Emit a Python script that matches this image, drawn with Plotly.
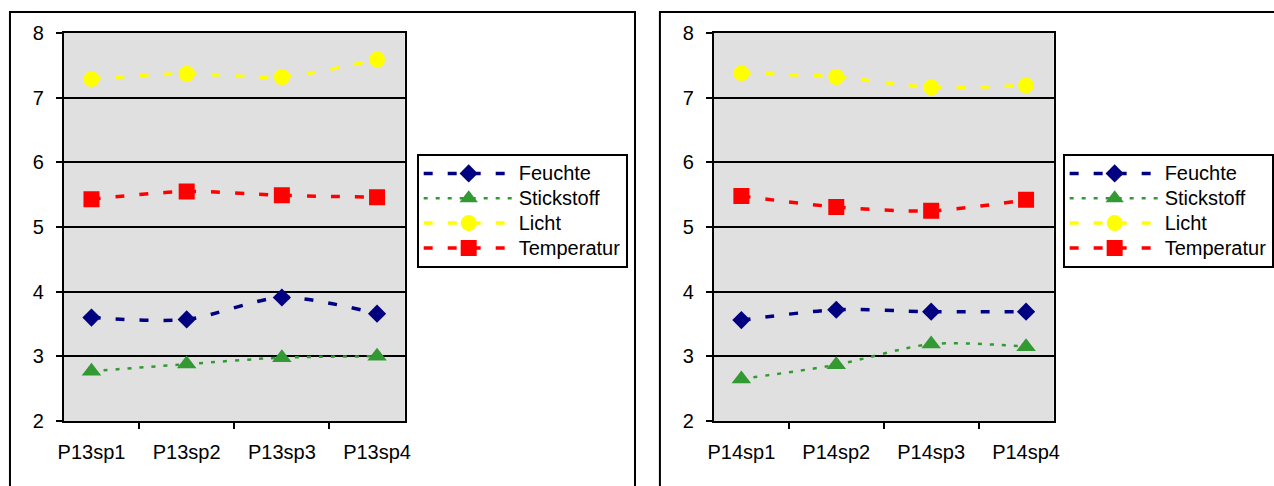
import plotly.graph_objects as go

cats13 = ["P13sp1", "P13sp2", "P13sp3", "P13sp4"]
cats14 = ["P14sp1", "P14sp2", "P14sp3", "P14sp4"]
series_names = ["Feuchte", "Stickstoff", "Licht", "Temperatur"]

feuchte13 = [3.60, 3.57, 3.91, 3.66]
stickstoff13 = [2.77, 2.88, 2.98, 3.00]
licht13 = [7.29, 7.37, 7.32, 7.59]
temperatur13 = [5.43, 5.55, 5.49, 5.46]

feuchte14 = [3.56, 3.72, 3.69, 3.69]
stickstoff14 = [2.65, 2.87, 3.19, 3.15]
licht14 = [7.38, 7.32, 7.16, 7.19]
temperatur14 = [5.48, 5.31, 5.25, 5.42]

y_ticks = [2, 3, 4, 5, 6, 7, 8]

styles = {
    "Feuchte": dict(color="#000080", dash="9px,15px", width=3.5, symbol="diamond", size=14),
    "Stickstoff": dict(color="#339933", dash="4px,8px", width=2.5, symbol="triangle-up", size=17),
    "Licht": dict(color="#FFFF00", dash="9px,15px", width=3.5, symbol="circle", size=16),
    "Temperatur": dict(color="#FF0000", dash="9px,15px", width=3.5, symbol="square", size=16),
}

W, H = 1274, 486
fig = go.Figure()

panels = [
    (cats13, [feuchte13, stickstoff13, licht13, temperatur13], "x", "y", "legend"),
    (cats14, [feuchte14, stickstoff14, licht14, temperatur14], "x2", "y2", "legend2"),
]
for cats, vals, xa, ya, lg in panels:
    for name, v in zip(series_names, vals):
        s = styles[name]
        fig.add_trace(go.Scatter(
            x=cats, y=v, name='<span style="font-size:20px">' + name + '</span>',
            mode="lines+markers",
            xaxis=xa, yaxis=ya, legend=lg,
            line=dict(color=s["color"], dash=s["dash"], width=s["width"], shape="spline", smoothing=0.8),
            marker=dict(symbol=s["symbol"], size=s["size"], color=s["color"], line=dict(width=0)),
            hoverinfo="skip",
        ))

font = dict(family="Arial, Liberation Sans", size=20, color="black")
legfont = dict(family="Arial, Liberation Sans", size=16.8, color="black")
ydom = [1 - 421 / H, 1 - 33 / H]

def xax(dom):
    return dict(domain=dom, type="category", showgrid=False, showline=True, linecolor="black",
                linewidth=2, mirror=True, ticks="outside", tickson="boundaries", ticklen=6,
                tickwidth=2, tickcolor="black", tickfont=font, ticklabelstandoff=12,
                zeroline=False, fixedrange=True, automargin=False)

def yax(dom, anchor):
    return dict(domain=dom, anchor=anchor, range=[2, 8], tickvals=y_ticks, showgrid=True,
                gridcolor="black", gridwidth=2, showline=True, linecolor="black", linewidth=2,
                mirror=True, ticks="outside", ticklen=6, tickwidth=2, tickcolor="black",
                tickfont=font, ticklabelstandoff=8, zeroline=False, fixedrange=True,
                automargin=False)

leg_common = dict(font=legfont, bgcolor="white", bordercolor="black", borderwidth=2,
                  xanchor="left", yanchor="top", itemwidth=90, tracegroupgap=0,
                  itemclick=False, itemdoubleclick=False)

fig.update_layout(
    width=W, height=H,
    margin=dict(l=0, r=0, t=0, b=0, pad=0),
    paper_bgcolor="white", plot_bgcolor="#E0E0E0",
    font=font,
    xaxis=xax([64 / W, 406 / W]),
    yaxis=yax(ydom, "x"),
    xaxis2=dict(xax([716 / W, 1057 / W]), anchor="y2"),
    yaxis2=yax(ydom, "x2"),
    legend=dict(leg_common, x=418 / W, y=1 - 154 / H),
    legend2=dict(leg_common, x=1066 / W, y=1 - 154 / H),
    shapes=[
        dict(type="rect", xref="paper", yref="paper", x0=10 / W, x1=637 / W, y0=-0.1, y1=1 - 12 / H,
             line=dict(color="black", width=2), layer="below"),
        dict(type="rect", xref="paper", yref="paper", x0=662 / W, x1=1.1, y0=-0.1, y1=1 - 12 / H,
             line=dict(color="black", width=2), layer="below"),
    ],
    showlegend=True,
)

fig.write_html("out.html")
